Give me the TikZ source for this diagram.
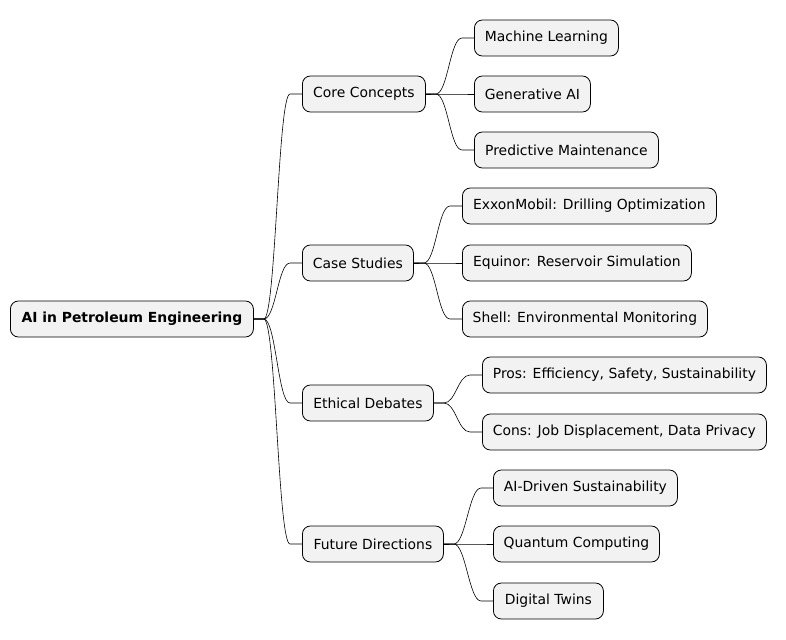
\documentclass[tikz,border=0pt]{standalone}
\usepackage{fontspec}
\setmainfont{DejaVu Sans}
\begin{document}
\begin{tikzpicture}[x=1pt,y=-1pt,
  box/.style={draw=black,fill=black!5,rounded corners=8pt,minimum height=36pt,inner xsep=0pt,anchor=west,font=\fontsize{13.9}{16}\selectfont,line width=0.8pt},
  con/.style={draw=black,line width=0.6pt}]
\useasboundingbox (0,0) rectangle (786,639);
\node[box,minimum width=243pt,font=\fontsize{13.9}{16}\selectfont\bfseries] (root) at (10,319) {AI in Petroleum Engineering};
\node[box,minimum width=123pt] (cc) at (302,94) {Core Concepts};
\node[box,minimum width=111pt] (cs) at (302,263) {Case Studies};
\node[box,minimum width=131pt] (ed) at (302,403) {Ethical Debates};
\node[box,minimum width=141pt] (fd) at (302,544) {Future Directions};
\node[box,minimum width=144pt] (ml) at (474,38) {Machine Learning};
\node[box,minimum width=116pt] (ga) at (474,94) {Generative AI};
\node[box,minimum width=184pt] (pm) at (474,150) {Predictive Maintenance};
\node[box,minimum width=254pt] (ex) at (462,206) {ExxonMobil: Drilling Optimization};
\node[box,minimum width=229pt] (eq) at (462,263) {Equinor: Reservoir Simulation};
\node[box,minimum width=245pt] (sh) at (462,319) {Shell: Environmental Monitoring};
\node[box,minimum width=284pt] (pr) at (482,375) {Pros: Efficiency, Safety, Sustainability};
\node[box,minimum width=284pt] (co) at (482,432) {Cons: Job Displacement, Data Privacy};
\node[box,minimum width=184pt] (ad) at (493,488) {AI-Driven Sustainability};
\node[box,minimum width=166pt] (qc) at (493,544) {Quantum Computing};
\node[box,minimum width=110pt] (dt) at (493,601) {Digital Twins};
\foreach \p/\c in {root/cc,root/cs,root/ed,root/fd,cc/ml,cc/ga,cc/pm,cs/ex,cs/eq,cs/sh,ed/pr,ed/co,fd/ad,fd/qc,fd/dt}{
  \draw[con] (\p.east) -- ++(10,0) .. controls +(12,0) and +(-12,0) .. ([xshift=-12pt]\c.west) -- (\c.west);
}
\end{tikzpicture}
\end{document}
